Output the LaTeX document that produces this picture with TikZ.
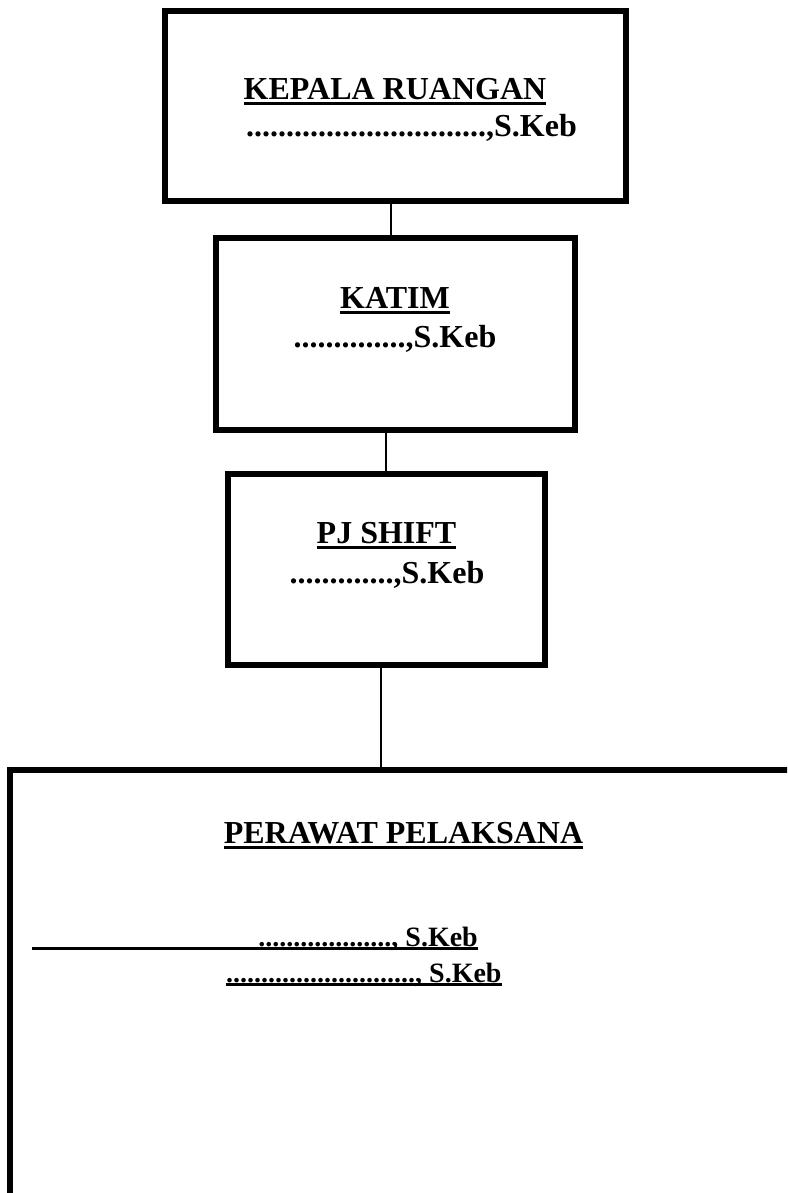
\documentclass[tikz,border=0pt]{standalone}
\usepackage{fontspec}
\setmainfont{Liberation Serif}
\begin{document}
\begin{tikzpicture}[x=1pt,y=-1pt,
  box/.style={draw, line width=6pt, inner sep=0pt},
  link/.style={line width=1.3pt},
  lbl/.style={inner sep=0pt, anchor=base, font=\fontsize{32}{38}\selectfont\bfseries},
  sublbl/.style={inner sep=0pt, anchor=base, font=\fontsize{28}{34}\selectfont\bfseries},
  uline/.style={line width=3pt},
  ulinesm/.style={line width=2.6pt}]
\useasboundingbox (0,0) rectangle (787,1193);
% boxes
\node[box, minimum width=461pt, minimum height=190pt] (kr) at (395.5,106) {};
\node[box, minimum width=359pt, minimum height=192pt] (katim) at (395.5,334) {};
\node[box, minimum width=317pt, minimum height=191pt] (pj) at (386.5,569.5) {};
\begin{scope}
  \clip (0,0) rectangle (787,1193);
  \node[box, anchor=north west, minimum width=900pt, minimum height=520pt] (pp) at (7,767) {};
\end{scope}
% connectors
\coordinate (c1) at (391,0);
\coordinate (c2) at (386,0);
\coordinate (c3) at (381,0);
\draw[link] (kr.south -| c1) -- (katim.north -| c1);
\draw[link] (katim.south -| c2) -- (pj.north -| c2);
\draw[link] (pj.south -| c3) -- (pp.north -| c3);
% texts
\node[lbl] (krT) at (395,100) {KEPALA RUANGAN};
\draw[uline] ([yshift=-4pt]krT.base west) -- ([yshift=-4pt]krT.base east);
\node[lbl, anchor=base east] (krN) at (577,137) {..............................,S.Keb};

\node[lbl] (kaT) at (395,308) {KATIM};
\draw[uline] ([yshift=-4pt]kaT.base west) -- ([yshift=-4pt]kaT.base east);
\node[lbl] (kaN) at (395,347) {..............,S.Keb};

\node[lbl] (pjT) at (386.5,543) {PJ SHIFT};
\draw[uline] ([yshift=-4pt]pjT.base west) -- ([yshift=-4pt]pjT.base east);
\node[lbl] (pjN) at (387,583) {.............,S.Keb};

\node[lbl] (ppT) at (403.5,843) {PERAWAT PELAKSANA};
\draw[uline] ([yshift=-4pt]ppT.base west) -- ([yshift=-4pt]ppT.base east);

\node[sublbl, anchor=base east] (ppA) at (478,946) {...................,\ S.Keb};
\draw[ulinesm] ([yshift=-2.5pt]ppA.base east) -- ++(-446,0);
\node[sublbl, anchor=base west] (ppB) at (226,982) {...........................,\ S.Keb};
\draw[ulinesm] ([yshift=-2.5pt]ppB.base west) -- ([yshift=-2.5pt]ppB.base east);
\end{tikzpicture}
\end{document}
